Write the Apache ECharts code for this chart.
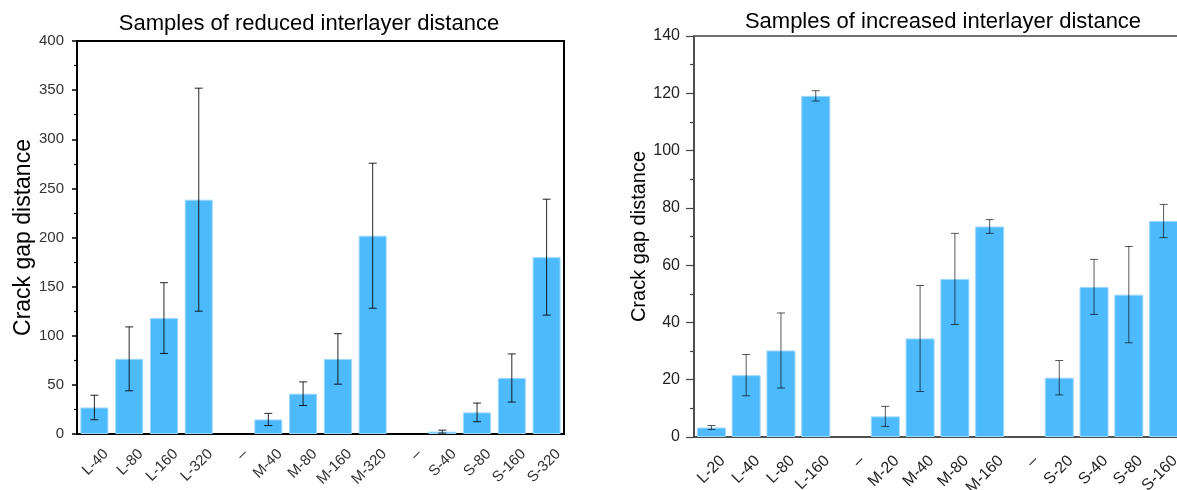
<!DOCTYPE html>
<html>
<head>
<meta charset="utf-8">
<script src="https://cdn.jsdelivr.net/npm/echarts@6/dist/echarts.min.js"></script>
<style>html,body{margin:0;padding:0;background:#fff;}#c{width:1177px;height:490px;}</style>
</head>
<body>
<div id="c"></div>
<script>
// ---- data ----
const catsL = ['L-40','L-80','L-160','L-320','–','M-40','M-80','M-160','M-320','–','S-40','S-80','S-160','S-320'];
const valsL = [27, 76.5, 118, 238.5, null, 14.8, 41, 76.4, 201.8, null, 2.4, 22, 57, 180];
const errL  = [12.5, 32.5, 36, 113.5, null, 6.2, 12, 25.7, 73.8, null, 1.5, 9.5, 24.5, 59];

const catsR = ['L-20','L-40','L-80','L-160','–','M-20','M-40','M-80','M-160','–','S-20','S-40','S-80','S-160'];
const valsR = [3.3, 21.6, 30.2, 119.1, null, 7.2, 34.4, 55.2, 73.5, null, 20.7, 52.4, 49.7, 75.4];
const errR  = [0.7, 7.2, 13.1, 1.8, null, 3.5, 18.5, 15.9, 2.4, null, 6, 9.6, 16.8, 5.8];

const titleL = 'Samples of reduced interlayer distance';
const titleR = 'Samples of increased interlayer distance';
const yName = 'Crack gap distance';

const BAR = '#4dbafc';

function errData(vals, errs) {
  const out = [];
  vals.forEach((v, i) => { if (v != null && errs[i] != null) out.push([i, v, errs[i]]); });
  return out;
}
function errRender(color) {
  return function (params, api) {
    const x = api.value(0), v = api.value(1), e = api.value(2);
    const t = api.coord([x, v + e]);
    const b = api.coord([x, Math.max(v - e, 0)]);
    const hw = 4;
    const st = { stroke: color, lineWidth: 1 };
    return {
      type: 'group',
      children: [
        { type: 'line', shape: { x1: t[0], y1: t[1], x2: b[0], y2: b[1] }, style: st },
        { type: 'line', shape: { x1: t[0] - hw, y1: t[1], x2: t[0] + hw, y2: t[1] }, style: st },
        { type: 'line', shape: { x1: b[0] - hw, y1: b[1], x2: b[0] + hw, y2: b[1] }, style: st }
      ]
    };
  };
}

const chart = echarts.init(document.getElementById('c'), null, { renderer: 'canvas' });
const fontL = 'Liberation Sans';
const fontR = 'Liberation Sans';

chart.setOption({
  animation: false,
  backgroundColor: '#fff',
  title: [
    { text: titleL, left: 304, top: 8, textAlign: 'center',
      textStyle: { fontFamily: fontR, fontSize: 22, fontWeight: 'normal', color: '#000' } },
    { text: titleR, left: 938, top: 6, textAlign: 'center',
      textStyle: { fontFamily: fontR, fontSize: 22, fontWeight: 'normal', color: '#000' } }
  ],
  grid: [
    { left: 77, top: 41, width: 487, height: 393, show: true, borderColor: '#000', borderWidth: 2,
      backgroundColor: 'transparent', outerBoundsMode: 'none', containLabel: false },
    { left: 694, top: 36, width: 487, height: 401, show: true, borderColor: '#444', borderWidth: 1.5,
      backgroundColor: 'transparent', outerBoundsMode: 'none', containLabel: false }
  ],
  xAxis: [
    { type: 'category', gridIndex: 0, data: catsL, position: 'bottom',
      axisLine: { lineStyle: { color: '#000', width: 2 } },
      axisTick: { alignWithLabel: true, length: 7, lineStyle: { color: '#000', width: 1.5 } },
      axisLabel: { rotate: 45, interval: 0, margin: 6, align: 'right', verticalAlign: 'top', padding: [9, 0, 0, 0],
        fontFamily: fontL, fontSize: 15, color: '#333' } },
    { type: 'category', gridIndex: 1, data: catsR, position: 'bottom',
      axisLine: { lineStyle: { color: '#444', width: 1.5 } },
      axisTick: { alignWithLabel: true, length: 7, lineStyle: { color: '#444', width: 1.2 } },
      axisLabel: { rotate: 45, interval: 0, margin: 10, align: 'right', verticalAlign: 'top', padding: [8, 0, 0, 0],
        fontFamily: fontR, fontSize: 16, color: '#222' } },
    { type: 'category', gridIndex: 1, data: catsR, position: 'bottom',
      axisLine: { show: false },
      axisTick: { alignWithLabel: false, length: 4, interval: 0, lineStyle: { color: '#444', width: 1.2 } },
      axisLabel: { show: false } }
  ],
  yAxis: [
    { type: 'value', gridIndex: 0, min: 0, max: 400, interval: 50,
      name: yName, nameLocation: 'middle', nameGap: 41, nameRotate: 90,
      nameTextStyle: { fontFamily: fontR, fontSize: 23, color: '#000' },
      axisLine: { show: true, lineStyle: { color: '#000', width: 2 } },
      axisTick: { show: true, length: 5, lineStyle: { color: '#000', width: 1.5 } },
      minorTick: { show: true, splitNumber: 2, length: 3, lineStyle: { color: '#000', width: 1.2 } },
      splitLine: { show: false },
      axisLabel: { margin: 13, fontFamily: fontL, fontSize: 15, color: '#333' } },
    { type: 'value', gridIndex: 1, min: 0, max: 140, interval: 20,
      name: yName, nameLocation: 'middle', nameGap: 44, nameRotate: 90,
      nameTextStyle: { fontFamily: fontR, fontSize: 20, color: '#000' },
      axisLine: { show: true, lineStyle: { color: '#444', width: 1.5 } },
      axisTick: { show: true, length: 8, lineStyle: { color: '#444', width: 1.2 } },
      minorTick: { show: true, splitNumber: 2, length: 4, lineStyle: { color: '#444', width: 1.2 } },
      splitLine: { show: false },
      axisLabel: { margin: 14, fontFamily: fontR, fontSize: 16, color: '#222' } }
  ],
  series: [
    { type: 'bar', xAxisIndex: 0, yAxisIndex: 0, data: valsL.map(v => v == null ? '-' : v), barWidth: 28,
      itemStyle: { color: BAR, borderColor: '#9bd7fd', borderWidth: 1 } },
    { type: 'custom', xAxisIndex: 0, yAxisIndex: 0, data: errData(valsL, errL),
      encode: { x: 0, y: 1 }, renderItem: errRender('rgba(0,0,0,0.85)'), z: 5 },
    { type: 'bar', xAxisIndex: 1, yAxisIndex: 1, data: valsR.map(v => v == null ? '-' : v), barWidth: 29,
      itemStyle: { color: BAR, borderColor: '#9bd7fd', borderWidth: 1 } },
    { type: 'custom', xAxisIndex: 1, yAxisIndex: 1, data: errData(valsR, errR),
      encode: { x: 0, y: 1 }, renderItem: errRender('rgba(0,0,0,0.65)'), z: 5 }
  ]
});
</script>
</body>
</html>
